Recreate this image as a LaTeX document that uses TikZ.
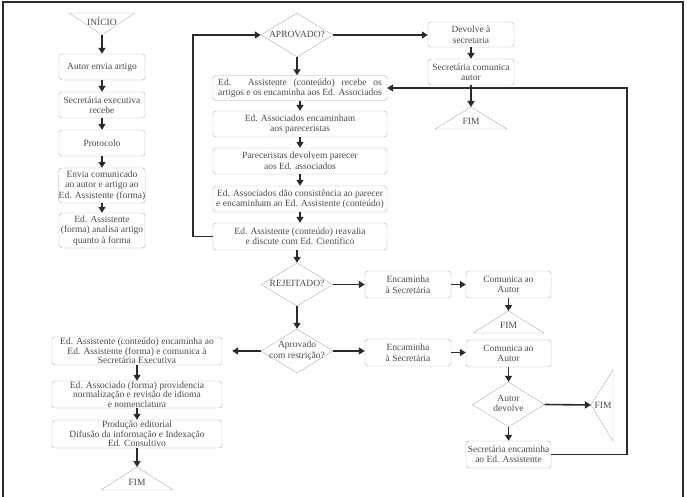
\documentclass[tikz,border=0pt]{standalone}
\usepackage{fontspec}
\setmainfont{Liberation Serif}
\usetikzlibrary{shapes.geometric,arrows.meta}

\definecolor{txtgray}{HTML}{4A4A4A}
\definecolor{boxgray}{HTML}{ADADAD}
\definecolor{arrgray}{HTML}{2B2B2B}
\newlength\linhawd
\newcommand\dtext[1]{\makebox[0pt]{\begin{tabular}{@{}c@{}}#1\end{tabular}}}

\tikzset{
  etapa/.style={rectangle, rounded corners=3pt, draw=boxgray, text=txtgray, align=center,
    inner sep=0pt, font=\fontsize{9.5}{10.5}\selectfont},
  etapaB/.style={etapa, font=\fontsize{9.5}{8}\selectfont},
  decisao/.style={diamond, draw=boxgray, text=txtgray, inner sep=0pt,
    minimum width=72pt, minimum height=44pt, font=\fontsize{9.5}{10.5}\selectfont},
  termino/.style={draw=boxgray, line join=round},
  rotulo/.style={text=txtgray, inner sep=0pt, font=\fontsize{9.5}{10.5}\selectfont},
  seta/.style={draw=arrgray, line width=1.6pt, -{Triangle[length=6pt,width=7pt]}},
  retorno/.style={draw=arrgray, line width=1.4pt, -{Triangle[length=6pt,width=7pt]}},
}

\begin{document}
\begin{tikzpicture}[x=1pt, y=-1pt]
    \useasboundingbox (0,0) rectangle (687,497);
    \draw[arrgray, line width=1.3pt] (3,497) -- (3,2) -- (683,2) -- (683,497);

    % Inicio
    \draw[termino] (69,13) -- (135,13) -- (102,35) -- cycle;
    \node[rotulo] (inicio) at (102,21) {INÍCIO};
    \coordinate (inicioB) at (102,35);

    % Coluna da esquerda
    \node[etapa, minimum width=86pt, minimum height=26pt] (a1) at (102,67) {Autor envia artigo};
    \node[etapa, minimum width=86pt, minimum height=26pt] (a2) at (102,105) {Secretária executiva\\recebe};
    \node[etapa, minimum width=86pt, minimum height=26pt] (a3) at (102,143) {Protocolo};
    \node[etapa, minimum width=86pt, minimum height=35pt] (a4) at (102,185.5) {Envia comunicado\\ao autor e artigo ao\\Ed. Assistente (forma)};
    \node[etapa, minimum width=86pt, minimum height=35pt] (a5) at (102,230.5) {Ed. Assistente\\(forma) analisa artigo\\quanto à forma};

    % Coluna do meio
    \node[decisao] (apr) at (297,35) {\dtext{APROVADO?}};
    \node[etapa, minimum width=174pt, minimum height=25pt] (mA) at (300,88)
      {\settowidth{\linhawd}{artigos e os encaminha aos Ed. Associados}%
       \makebox[\linhawd][s]{Ed. Assistente (conteúdo) recebe os}\\artigos e os encaminha aos Ed. Associados};
    \node[etapa, minimum width=174pt, minimum height=26pt] (mB) at (300,124) {Ed. Associados encaminham\\aos pareceristas};
    \node[etapa, minimum width=174pt, minimum height=26pt] (mC) at (300,161) {Pareceristas devolvem parecer\\aos Ed. associados};
    \node[etapa, minimum width=174pt, minimum height=26pt] (mD) at (300,199) {Ed. Associados dão consistência ao parecer\\e encaminham ao Ed. Assistente (conteúdo)};
    \node[etapa, minimum width=174pt, minimum height=27pt] (mE) at (300,236.5) {Ed. Assistente (conteúdo) reavalia\\e discute com Ed. Científico};
    \node[decisao, minimum height=43pt] (rej) at (297,284.5) {\dtext{REJEITADO?}};
    \node[decisao] (res) at (297,351) {\dtext{Aprovado\\com restrição?}};

    % Coluna da direita (alto)
    \node[etapa, minimum width=86pt, minimum height=25pt] (r1) at (471,34.5) {Devolve à\\secretaria};
    \node[etapa, minimum width=86pt, minimum height=26pt] (r2) at (471,72) {Secretária comunica\\autor};
    \draw[termino] (435,129) -- (507,129) -- (471,107) -- cycle;
    \node[rotulo] (fim1) at (471,121) {FIM};
    \coordinate (fim1T) at (471,107);

    % Rejeitado / com restricao
    \node[etapa, minimum width=86pt, minimum height=27pt] (e1) at (408,284.5) {Encaminha\\à Secretária};
    \node[etapa, minimum width=85pt, minimum height=27pt] (c1) at (508.5,284.5) {Comunica ao\\Autor};
    \draw[termino] (473,333) -- (544,333) -- (508.5,311) -- cycle;
    \node[rotulo] (fim2) at (508.5,325) {FIM};
    \coordinate (fim2T) at (508.5,311);

    \node[etapa, minimum width=86pt, minimum height=27pt] (e2) at (408,352.5) {Encaminha\\à Secretária};
    \node[etapa, minimum width=85pt, minimum height=27pt] (c2) at (508.5,353.5) {Comunica ao\\Autor};
    \node[decisao, minimum height=45pt] (dev) at (508.5,404.5) {\dtext{Autor\\devolve}};
    \draw[termino] (613,370) -- (613,441) -- (591,405) -- cycle;
    \node[rotulo] (fim3) at (603,405) {FIM};
    \coordinate (fim3T) at (591,405);
    \node[etapa, minimum width=85pt, minimum height=27pt] (s1) at (508.5,454.5) {Secretária encaminha\\ao Ed. Assistente};
    \coordinate (rloop) at (627,88);

    % Coluna de baixo, esquerda
    \node[etapaB, minimum width=170pt, minimum height=28pt] (l1) at (137,351) {Ed. Assistente (conteúdo) encaminha ao\\Ed. Assistente (forma) e comunica à\\Secretária Executiva};
    \node[etapaB, minimum width=170pt, minimum height=27pt] (l2) at (137,394.5) {Ed. Associado (forma) providencia\\normalização e revisão de idioma\\e nomenclatura};
    \node[etapaB, minimum width=170pt, minimum height=28pt] (l3) at (137,434) {Produção editorial\\Difusão da informação e Indexação\\Ed. Consultivo};
    \draw[termino] (101,490) -- (173,490) -- (137,467) -- cycle;
    \node[rotulo] (fim4) at (137,482) {FIM};
    \coordinate (fim4T) at (137,467);

    % Setas
    \draw[seta] (inicioB) -- (a1.north);
    \draw[seta] (a1) -- (a2);
    \draw[seta] (a2) -- (a3);
    \draw[seta] (a3) -- (a4);
    \draw[seta] (a4) -- (a5);

    \draw[seta] (apr) -- (apr |- mA.north);
    \draw[seta] (mA) -- (mB);
    \draw[seta] (mB) -- (mC);
    \draw[seta] (mC) -- (mD);
    \draw[seta] (mD) -- (mE);
    \draw[seta] (mE.south -| rej) -- (rej);
    \draw[seta] (rej) -- (res);
    \draw[retorno] (mE.west) -- ++(-20,0) |- (apr.west);

    \draw[seta] (apr.east) -- (apr.east -| r1.west);
    \draw[seta] (r1) -- (r2);
    \draw[seta] (r2) -- (fim1T);

    \draw[seta] (rej.east) -- (e1.west);
    \draw[seta] (e1) -- (c1);
    \draw[seta] (c1) -- (fim2T);
    \draw[seta] (res.east) -- (res.east -| e2.west);
    \draw[seta] (e2) -- (e2 -| c2.west);
    \draw[seta] (c2) -- (dev);
    \draw[seta] (dev.east) -- (fim3T);
    \draw[seta] (dev) -- (s1);
    \draw[retorno] (s1.east) -| (rloop) -- (mA.east);

    \draw[seta, shorten >=10pt] (res.west) -- (res.west -| l1.east);
    \draw[seta] (l1) -- (l2);
    \draw[seta] (l2) -- (l3);
    \draw[seta] (l3) -- (fim4T);
\end{tikzpicture}
\end{document}
